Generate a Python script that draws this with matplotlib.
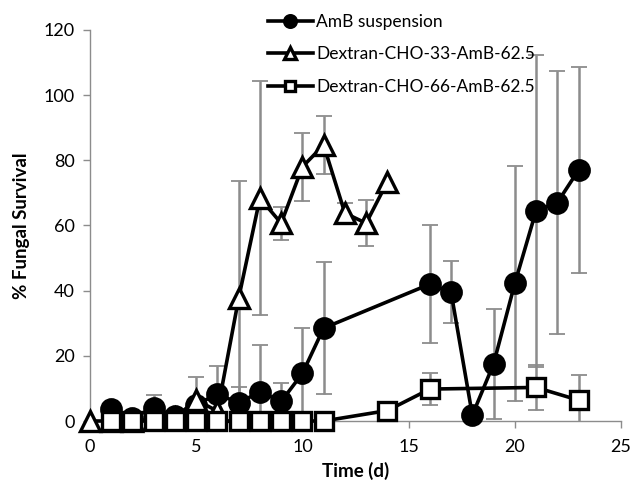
import matplotlib.pyplot as plt
import numpy as np

plt.rcParams['font.family'] = ['Lato', 'DejaVu Sans']

# AmB suspension
t_amb = [1, 2, 3, 4, 5, 6, 7, 8, 9, 10, 11, 16, 17, 18, 19, 20, 21, 22, 23]
amb = [3.7, 1.0, 4.0, 1.5, 5.0, 8.3, 5.5, 9.0, 6.0, 14.6, 28.5, 42.0, 39.5, 1.8, 17.5, 42.2, 64.5, 67.0, 77.0]
amb_err = [0, 0, 4.0, 0, 0, 8.7, 5.0, 14.3, 5.6, 14.0, 20.3, 18.0, 9.5, 0, 17.0, 36.0, 47.8, 40.4, 31.5]

# Dextran-CHO-33-AmB-62.5
t_d33 = [0, 1, 2, 3, 4, 5, 6, 7, 8, 9, 10, 11, 12, 13, 14]
d33 = [0.0, 0.0, 0.0, 0.5, 1.0, 6.5, 3.0, 37.7, 68.4, 60.7, 78.0, 84.7, 63.8, 60.7, 73.4]
d33_err = [0, 0, 0, 0, 0, 7.0, 0, 36.0, 36.0, 5.0, 10.5, 9.0, 3.0, 7.0, 0]

# Dextran-CHO-66-AmB-62.5
t_d66 = [1, 2, 3, 4, 5, 6, 7, 8, 9, 10, 11, 14, 16, 21, 23]
d66 = [0, 0, 0, 0, 0, 0, 0, 0, 0, 0, 0, 3.2, 9.8, 10.3, 6.4]
d66_err = [0, 0, 0, 0, 0, 0, 0, 0, 0, 0, 0, 0, 5.0, 7.0, 7.7]

labels = ['AmB suspension', 'Dextran-CHO-33-AmB-62.5', 'Dextran-CHO-66-AmB-62.5']


fig = plt.figure(figsize=(6.36, 5.0), dpi=100)
ax = fig.add_axes([90/636, 1 - 421/500, 531/636, 391/500])

ebkw = dict(ecolor='#8c8c8c', elinewidth=1.8, capsize=6, capthick=1.3)

series = [
    (t_amb, amb, amb_err, 'o', 'black', 14),
    (t_d33, d33, d33_err, '^', 'white', 15),
    (t_d66, d66, d66_err, 's', 'white', 12.5),
]
handles = []
for (t, y, e, m, fc, ms), lab in zip(series, labels):
    t = np.array(t); y = np.array(y); e = np.array(e)
    k = e > 0   # only points that have a bar
    eb = ax.errorbar(t[k], y[k], yerr=e[k], fmt='none', zorder=2, **ebkw)
    for c in eb[1]:
        c.set_color('#202020')
    ln, = ax.plot(t, y, '-', color='black', lw=2.6, marker=m, ms=ms,
                  mfc=fc, mec='black', mew=2.4, zorder=3, clip_on=False, label=lab)
    handles.append(ln)

ax.set_xlim(0, 25)
ax.set_ylim(0, 120)
ax.set_xticks(np.arange(0, 26, 5))
ax.set_yticks(np.arange(0, 121, 20))

for s in ['top', 'right']:
    ax.spines[s].set_visible(False)
for s in ['left', 'bottom']:
    ax.spines[s].set_color('#8c8c8c')
    ax.spines[s].set_linewidth(1.0)
ax.tick_params(colors='#8c8c8c', labelcolor='black', labelsize=13, length=5, width=1.0)
ax.tick_params(axis='x', pad=8)
ax.tick_params(axis='y', pad=6)

ax.set_xlabel('Time (d)', fontsize=13.5, fontweight='bold', labelpad=5)
ax.set_ylabel('% Fungal Survival', fontsize=13.5, fontweight='bold', labelpad=10)

fig.legend(handles=handles, labels=labels, loc='upper left',
           bbox_to_anchor=(252/636, 1 + 2/500), frameon=False,
           fontsize=12.5, markerscale=0.6, handlelength=2.6,
           handletextpad=0.2, labelspacing=0.95)

fig.savefig('out.png', dpi=100)
